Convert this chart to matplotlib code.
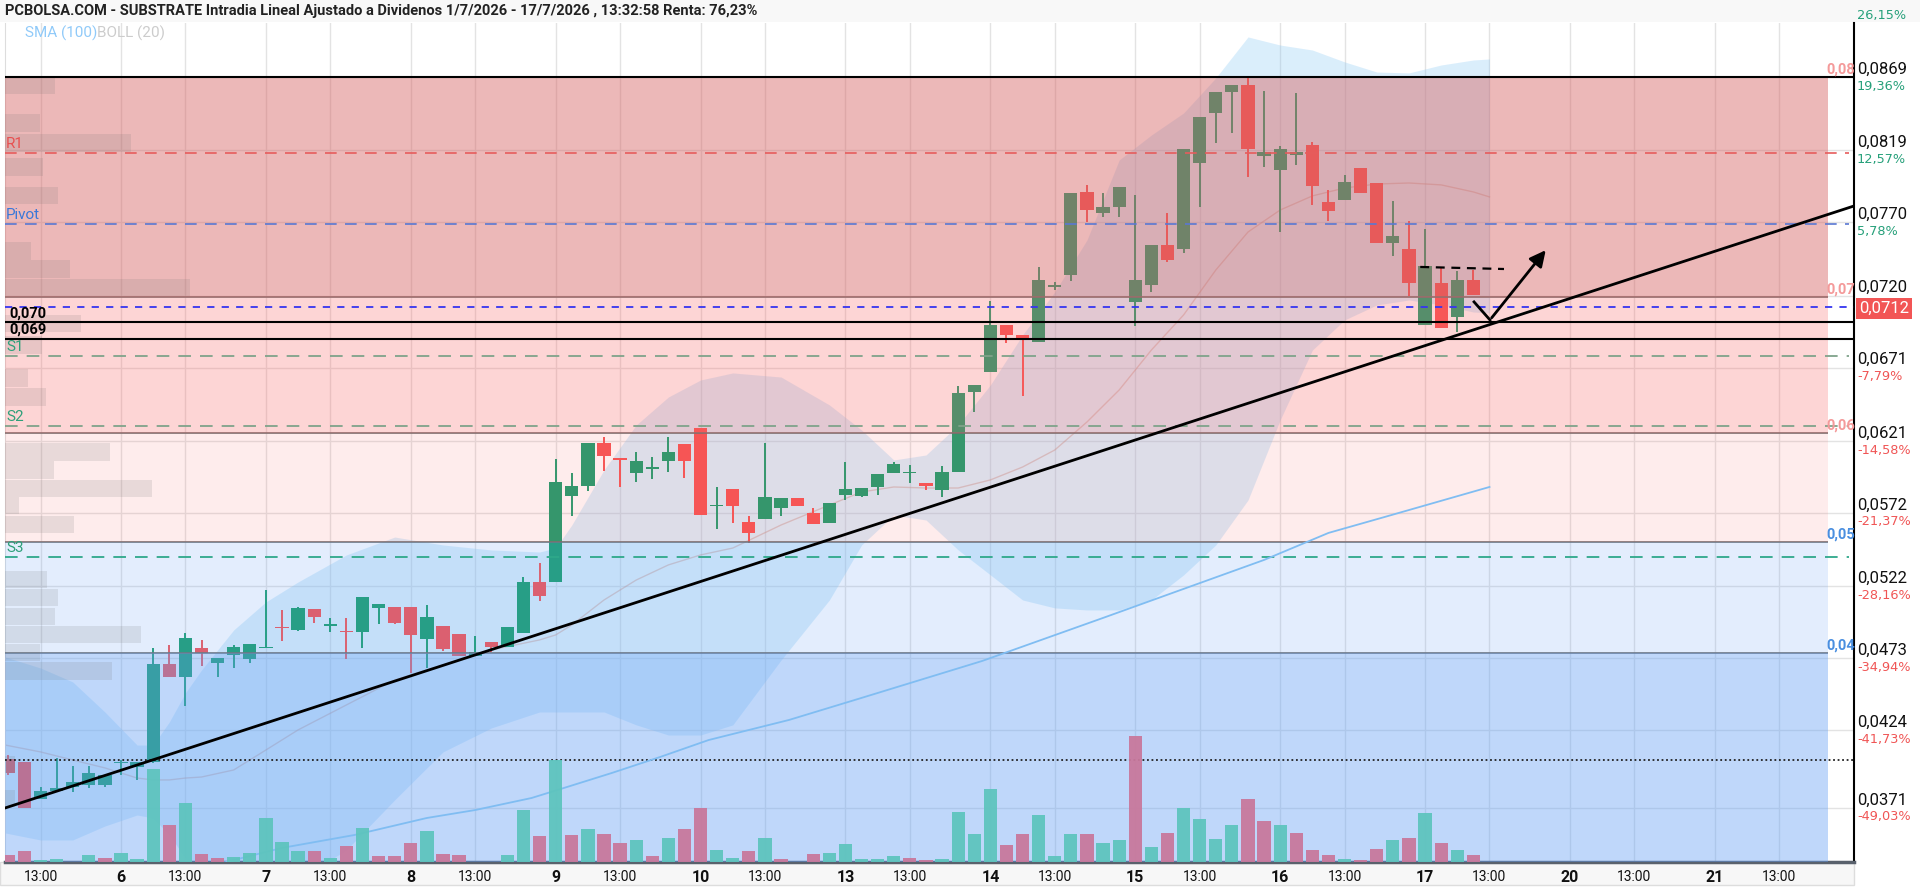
import matplotlib
matplotlib.use("Agg")
import matplotlib.pyplot as plt
import matplotlib.transforms as mtransforms
from matplotlib.patches import Rectangle

plt.rcParams['font.family'] = ['Roboto', 'DejaVu Sans']
NARROW = ['Liberation Sans Narrow', 'Roboto', 'DejaVu Sans']

# ---- hourly bars, index counted from 6/7 09:00 (9 bars per session) ----
bar_idx = list(range(-7, 85))
opens = [0.04044, 0.04024, 0.03771, 0.03826, 0.03853, 0.03867, 0.03867,
         0.04017, 0.03989, 0.04024, 0.04691, 0.04603, 0.04800, 0.04698, 0.04753, 0.04725,
         0.04800, 0.04943, 0.04923, 0.05066, 0.04950, 0.04916, 0.04909, 0.05073, 0.05079,
         0.05079, 0.04862, 0.04950, 0.04896, 0.04746, 0.04841, 0.04807, 0.04902, 0.05250,
         0.05250, 0.05836, 0.05904, 0.06197, 0.06095, 0.05993, 0.06020, 0.06074, 0.06190,
         0.06299, 0.05768, 0.05883, 0.05659, 0.05679, 0.05754, 0.05822, 0.05720, 0.05652,
         0.05843, 0.05836, 0.05897, 0.05993, 0.05993, 0.05924, 0.05877, 0.05999, 0.06544,
         0.06681, 0.07001, 0.06933, 0.06885, 0.07260, 0.07342, 0.07907, 0.07764, 0.07805,
         0.07157, 0.07273, 0.07546, 0.07519, 0.08104, 0.08445, 0.08588, 0.08636, 0.08152,
         0.08057, 0.08159, 0.08227, 0.07839, 0.07852, 0.08070, 0.07968, 0.07559, 0.07519,
         0.07001, 0.07287, 0.07055, 0.07307]
highs = [0.04071, 0.04024, 0.03853, 0.04051, 0.03996, 0.03996, 0.03935,
         0.04037, 0.04024, 0.04800, 0.04820, 0.04902, 0.04855, 0.04732, 0.04820, 0.04827,
         0.05195, 0.05059, 0.05079, 0.05066, 0.05004, 0.05004, 0.05148, 0.05100, 0.05079,
         0.05079, 0.05093, 0.04950, 0.04896, 0.04882, 0.04841, 0.04943, 0.05284, 0.05379,
         0.06088, 0.05993, 0.06197, 0.06238, 0.06095, 0.06136, 0.06101, 0.06238, 0.06190,
         0.06299, 0.05897, 0.05883, 0.05699, 0.06197, 0.05822, 0.05822, 0.05754, 0.05788,
         0.06067, 0.05890, 0.05986, 0.06067, 0.06047, 0.05924, 0.06040, 0.06585, 0.06592,
         0.07164, 0.07001, 0.06933, 0.07396, 0.07294, 0.07900, 0.07955, 0.07900, 0.07941,
         0.07886, 0.07546, 0.07764, 0.08200, 0.08418, 0.08588, 0.08636, 0.08684, 0.08595,
         0.08220, 0.08581, 0.08248, 0.07921, 0.08023, 0.08070, 0.07968, 0.07846, 0.07709,
         0.07655, 0.07396, 0.07369, 0.07376]
lows = [0.03935, 0.03710, 0.03771, 0.03826, 0.03819, 0.03846, 0.03853,
        0.03935, 0.03901, 0.04017, 0.04603, 0.04405, 0.04678, 0.04603, 0.04664, 0.04698,
        0.04800, 0.04848, 0.04916, 0.04970, 0.04909, 0.04725, 0.04800, 0.04964, 0.04964,
        0.04630, 0.04664, 0.04780, 0.04746, 0.04746, 0.04773, 0.04807, 0.04902, 0.05120,
        0.05250, 0.05699, 0.05870, 0.06006, 0.05897, 0.05931, 0.05952, 0.05999, 0.05959,
        0.05706, 0.05611, 0.05652, 0.05515, 0.05679, 0.05699, 0.05768, 0.05645, 0.05652,
        0.05809, 0.05829, 0.05843, 0.05993, 0.05924, 0.05877, 0.05829, 0.05999, 0.06408,
        0.06681, 0.06878, 0.06517, 0.06885, 0.07239, 0.07301, 0.07703, 0.07737, 0.07737,
        0.06994, 0.07226, 0.07430, 0.07491, 0.07805, 0.08241, 0.08309, 0.08009, 0.08077,
        0.07635, 0.08091, 0.07818, 0.07709, 0.07852, 0.07900, 0.07559, 0.07471, 0.07198,
        0.07001, 0.06980, 0.06953, 0.07205]
closes = [0.03949, 0.03710, 0.03826, 0.03846, 0.03887, 0.03949, 0.03935,
          0.04024, 0.04024, 0.04691, 0.04603, 0.04868, 0.04766, 0.04732, 0.04807, 0.04827,
          0.04807, 0.04936, 0.05073, 0.05011, 0.04964, 0.04909, 0.05148, 0.05100, 0.04970,
          0.04889, 0.05011, 0.04793, 0.04746, 0.04773, 0.04807, 0.04943, 0.05250, 0.05154,
          0.05931, 0.05904, 0.06197, 0.06108, 0.06081, 0.06074, 0.06033, 0.06136, 0.06074,
          0.05706, 0.05774, 0.05768, 0.05584, 0.05829, 0.05822, 0.05768, 0.05645, 0.05788,
          0.05883, 0.05890, 0.05986, 0.06054, 0.06000, 0.05904, 0.05999, 0.06538, 0.06592,
          0.07001, 0.06933, 0.06912, 0.07307, 0.07273, 0.07900, 0.07784, 0.07805, 0.07941,
          0.07307, 0.07546, 0.07444, 0.08200, 0.08418, 0.08588, 0.08636, 0.08200, 0.08179,
          0.08200, 0.08179, 0.07948, 0.07777, 0.07975, 0.07900, 0.07559, 0.07607, 0.07287,
          0.07403, 0.06980, 0.07307, 0.07205]
volumes = [20, 32, 7, 10, 0, 21, 13,
           28, 10, 280, 110, 178, 25, 13, 16, 28,
           133, 60, 32, 32, 12, 47, 103, 17, 17,
           58, 92, 25, 20, 0, 0, 20, 155, 77,
           305, 81, 100, 85, 58, 67, 17, 73, 100,
           163, 35, 13, 32, 72, 8, 0, 23, 27,
           53, 8, 10, 18, 13, 7, 10, 150, 83,
           218, 50, 83, 140, 18, 83, 83, 57, 65,
           377, 45, 87, 162, 128, 70, 110, 190, 122,
           110, 87, 35, 20, 8, 5, 40, 65, 73,
           148, 57, 35, 20]
vol_dir = [-1, -1, 1, 1, 1, 1, -1,
           1, 1, 1, -1, 1, -1, -1, 1, 1,
           1, 1, 1, -1, 1, -1, 1, -1, -1,
           -1, 1, -1, -1, 1, 1, 1, 1, -1,
           1, -1, 1, -1, -1, 1, -1, 1, -1,
           -1, 1, 1, -1, 1, -1, 1, -1, 1,
           1, 1, 1, 1, -1, -1, 1, 1, 1,
           1, -1, -1, 1, 1, 1, -1, 1, 1,
           -1, 1, -1, 1, 1, 1, 1, -1, -1,
           1, -1, -1, -1, 1, -1, -1, 1, -1,
           1, -1, 1, -1]

# ---- Bollinger (20) and SMA (100), read at sample bars ----
bb_idx = [-7.2, -5, -3, -1, 1, 2, 3, 4, 5, 7, 9, 11, 14, 17, 20, 23, 26, 27, 28, 30,
          32, 34, 36, 38, 41, 44, 46, 48, 50, 52, 54, 56, 58, 60, 62, 64, 66, 68, 70, 72,
          74, 76, 78, 80, 82, 84, 85]
bb_upper = [0.04739, 0.04664, 0.04569, 0.04364, 0.04139, 0.04139, 0.04296, 0.04494, 0.04650, 0.04923,
            0.05114, 0.05250, 0.05434, 0.05556, 0.05502, 0.05468, 0.05454, 0.05481, 0.05638, 0.06013,
            0.06319, 0.06510, 0.06626, 0.06674, 0.06646, 0.06456, 0.06285, 0.06081, 0.06115, 0.06319,
            0.06592, 0.06933, 0.07226, 0.07580, 0.08125, 0.08295, 0.08445, 0.08684, 0.08963, 0.08908,
            0.08874, 0.08793, 0.08724, 0.08718, 0.08772, 0.08806, 0.08813]
bb_lower = [0.03540, 0.03492, 0.03492, 0.03587, 0.03662, 0.03642, 0.03526, 0.03369, 0.03185, 0.03083,
            0.03083, 0.03220, 0.03424, 0.03765, 0.04092, 0.04255, 0.04364, 0.04364, 0.04364, 0.04364,
            0.04276, 0.04207, 0.04207, 0.04276, 0.04718, 0.05127, 0.05502, 0.05706, 0.05672, 0.05468,
            0.05298, 0.05127, 0.05073, 0.05059, 0.05059, 0.05127, 0.05298, 0.05502, 0.05808, 0.06354,
            0.06830, 0.07035, 0.07137, 0.07171, 0.07137, 0.07089, 0.07083]
bb_mid = [0.04139, 0.04092, 0.04037, 0.03983, 0.03914, 0.03901, 0.03901, 0.03914, 0.03921, 0.03969,
          0.04105, 0.04242, 0.04412, 0.04582, 0.04684, 0.04787, 0.04855, 0.04889, 0.04957, 0.05127,
          0.05263, 0.05366, 0.05434, 0.05481, 0.05638, 0.05774, 0.05863, 0.05897, 0.05890, 0.05890,
          0.05945, 0.06033, 0.06149, 0.06340, 0.06558, 0.06830, 0.07069, 0.07375, 0.07634, 0.07784,
          0.07880, 0.07934, 0.07961, 0.07968, 0.07955, 0.07907, 0.07873]
sma_idx = [5, 10, 14.5, 19, 22, 25.5, 27.5, 30.5, 33.5, 36.5, 41.5, 46, 53.5, 61, 71, 75, 78.5, 85]
sma_vals = [0.0330, 0.03438, 0.03526, 0.03642, 0.03696, 0.03778, 0.03846, 0.03949, 0.04058,
            0.04173, 0.04310, 0.04460, 0.04712, 0.05005, 0.05400, 0.05584, 0.05693, 0.05897]

# ---- levels ----
trend_idx = [-7.2, 107.6]
trend_vals = [0.0371, 0.0781]
level_top, level_070, level_069 = 0.0869, 0.0702, 0.06905
r1, pivot, s1, s2, s3 = 0.0817, 0.0769, 0.0679, 0.0631, 0.0542
last_price = 0.0712
dotted_level = 0.0404
zone_tops = [0.0869, 0.07192, 0.06265, 0.05522, 0.04766]
zone_bots = [0.07192, 0.06265, 0.05522, 0.04766, 0.0330]
zone_labels = ['0,08', '0,07', '0,06', '0,05', '0,04']

profile_prices = [0.08633, 0.08377, 0.08241, 0.08077, 0.07883, 0.07505, 0.07382, 0.07256,
                  0.07011, 0.06865, 0.06640, 0.06510, 0.06136, 0.06013, 0.05887, 0.05771,
                  0.05642, 0.05267, 0.05144, 0.05015, 0.04892, 0.04770, 0.04643, 0.04007, 0.03775]
profile_vol = [50, 35, 126, 38, 53, 26, 65, 185, 76, 37, 23, 41, 105, 49, 147, 14,
               69, 42, 53, 50, 136, 35, 107, 10, 10]

right_ticks = [0.0869, 0.0819, 0.0770, 0.0720, 0.0671, 0.0621, 0.0572, 0.0522, 0.0473, 0.0424, 0.0371]
right_labels = ['0,0869', '0,0819', '0,0770', '0,0720', '0,0671', '0,0621', '0,0572',
                '0,0522', '0,0473', '0,0424', '0,0371']
pct_labels = ['19,36%', '12,57%', '5,78%', '', '-7,79%', '-14,58%', '-21,37%',
              '-28,16%', '-34,94%', '-41,73%', '-49,03%']
session_days = ['6', '7', '8', '9', '10', '13', '14', '15', '16', '17', '20', '21']

# ---- figure ----
W, H = 1920, 889
fig = plt.figure(figsize=(W / 100, H / 100), dpi=100)
fig.patches.append(Rectangle((0, 1 - 22 / H), 1, 22 / H, transform=fig.transFigure,
                             fc='#f8f8f8', ec='none', zorder=-5))
fig.patches.append(Rectangle((0, 1 - 885 / H), 1854 / W, 23 / H, transform=fig.transFigure,
                             fc='#f7f7f7', ec='#dddddd', lw=1, zorder=-5))
ax = fig.add_axes([5 / W, 1 - 862 / H, 1849 / W, 839 / H])
x0, x1 = -7.205, 107.64
zone_end = 106
ax.set_xlim(x0, x1)
ax.set_ylim(0.03342, 0.09058)

# grid / ticks
xt, xl = [], []
for k in range(-1, 12):
    if k >= 0:
        xt.append(9 * k); xl.append(session_days[k])
    xt.append(9 * k + 4); xl.append('13:00')
ax.set_xticks(xt)
ax.set_xticklabels(xl)
for t in ax.get_xticklabels():
    if t.get_text() == '13:00':
        t.set_fontsize(10); t.set_family(NARROW)
    else:
        t.set_fontsize(11.5); t.set_fontweight('bold'); t.set_family(NARROW)
ax.set_yticks(right_ticks)
ax.tick_params(axis='y', length=0, labelleft=False)
ax.tick_params(axis='x', length=0, pad=6, colors='#111111')
ax.grid(True, color='#e3e3e3', lw=1, zorder=0)
ax.set_axisbelow(True)
ax.spines['top'].set_visible(False)
ax.spines['left'].set_color('#dddddd')
ax.spines['right'].set_color('black'); ax.spines['right'].set_linewidth(1.5)
ax.spines['bottom'].set_color('#59616c'); ax.spines['bottom'].set_linewidth(2.5)

# Bollinger band
ax.fill_between(bb_idx, bb_lower, bb_upper, color='#87c8f5', alpha=0.30, lw=0, zorder=1.5)
ax.plot(bb_idx, bb_mid, color='#c89890', lw=1, alpha=0.45, zorder=1.6)

# candles
up_c, dn_c = '#1a9e6e', '#f65353'
cols = [up_c if c >= o else dn_c for o, c in zip(opens, closes)]
ax.vlines(bar_idx, lows, highs, colors=cols, lw=1.4, zorder=2)
bottoms = [min(o, c) for o, c in zip(opens, closes)]
heights = [max(abs(c - o), 0.00005) for o, c in zip(opens, closes)]
ax.bar(bar_idx, heights, bottom=bottoms, width=0.82, color=cols, lw=0, zorder=2.1)

# zones over the candles
zone_cols = ['#d76464', '#fa6464', '#fa6464', '#64a0f5', '#64a0f5']
zone_alpha = [0.46, 0.27, 0.12, 0.18, 0.41]
for top, bot, c, a in zip(zone_tops, zone_bots, zone_cols, zone_alpha):
    ax.add_patch(Rectangle((x0, bot), zone_end - x0, top - bot, fc=c, alpha=a, lw=0, zorder=3))
ax.hlines(zone_tops[1:], x0, zone_end, colors='#707070', lw=1.2, zorder=2.9)
ax.barh(profile_prices, [v / 16.1 for v in profile_vol], left=x0, height=0.00118,
        color='#707070', alpha=0.15, lw=0, zorder=3.5)

# levels
ax.hlines([level_top, level_070, level_069], x0, x1, colors='black', lw=1.5, zorder=5)
ax.hlines(r1, x0, x1 - 0.3, colors='#e65c5c', lw=1.2, linestyles=(0, (7, 5)), zorder=5)
ax.hlines(pivot, x0, x1 - 0.3, colors='#5a78d2', lw=1.2, linestyles=(0, (7, 5)), zorder=5)
ax.hlines([s1, s2], x0, x1 - 0.3, colors='#7fa38a', lw=1.3, linestyles=(0, (7, 5)), zorder=5)
ax.hlines(s3, x0, x1 - 0.3, colors='#2ea88a', lw=1.3, linestyles=(0, (7, 5)), zorder=5)
ax.hlines(last_price, x0, x1, colors='#3535f0', lw=1.3, linestyles=(0, (4, 4)), zorder=5)
ax.hlines(dotted_level, x0, x1, colors='#222222', lw=1.3, linestyles=(0, (1, 1.5)), zorder=5)

ax.plot(sma_idx, sma_vals, color='#80bdf2', lw=1.3, zorder=5)
ax.plot(trend_idx, trend_vals, color='black', lw=2, zorder=6)
ax.plot([80.7, 85.9], [0.07396, 0.07382], color='black', lw=1.6, ls=(0, (4, 3)), zorder=6)
ax.plot([84.04, 85.03], [0.07158, 0.07035], color='black', lw=2, zorder=6)
ax.annotate('', xy=(88.6, 0.07525), xytext=(85.03, 0.07035),
            arrowprops=dict(arrowstyle='-|>', color='black', lw=2, mutation_scale=24), zorder=6)

# left labels
for txt, lev, col in [('R1', r1, '#e85050'), ('Pivot', pivot, '#3a78d8'),
                      ('S1', s1, '#2ea07a'), ('S2', s2, '#2ea07a'), ('S3', s3, '#2ea07a')]:
    ax.annotate(txt, xy=(x0, lev), xytext=(1, 9), textcoords='offset pixels',
                fontsize=11, color=col, va='center', ha='left', zorder=7)
for txt, lev in [('0,070', level_070), ('0,069', level_069)]:
    ax.annotate(txt, xy=(x0, lev), xytext=(4, 9), textcoords='offset pixels',
                fontsize=10.5, fontweight='bold', color='black', va='center', zorder=7)
for txt, lev in zip(zone_labels, zone_tops):
    col = '#f49a9a' if lev > 0.06 else '#4a8fe0'
    ax.text(105.95, lev, txt, fontsize=10.5, fontweight='bold', color=col,
            va='bottom', ha='left', clip_on=False, zorder=7)

# right axis labels
tr = mtransforms.blended_transform_factory(ax.transAxes, ax.transData)
for v, lab, pct in zip(right_ticks, right_labels, pct_labels):
    ax.annotate(lab, xy=(1, v), xycoords=tr, xytext=(3, 8), textcoords='offset pixels',
                fontsize=12, color='#111111', va='center', ha='left', annotation_clip=False)
    if pct:
        ax.annotate(pct, xy=(1, v), xycoords=tr, xytext=(3, -9), textcoords='offset pixels',
                    fontsize=9.3, family='DejaVu Sans', va='center', ha='left',
                    color='#26a07a' if not pct.startswith('-') else '#f05555', annotation_clip=False)
ax.annotate('0,0712', xy=(1, last_price), xycoords=tr, xytext=(5, -1), textcoords='offset pixels',
            fontsize=12, color='white', va='center', ha='left', annotation_clip=False,
            bbox=dict(boxstyle='square,pad=0.2', fc='#f25555', ec='none'))
fig.text(1857 / W, 1 - 15 / H, '26,15%', fontsize=9.3, family='DejaVu Sans', color='#26a07a', va='center')

# volume bars
axv = ax.twinx()
axv.set_ylim(0, 839 * 3)
axv.set_axis_off()
vcols = ['#5ec4be' if d > 0 else '#c8789c' for d in vol_dir]
axv.bar(bar_idx, volumes, width=0.82, color=vcols, alpha=0.95, lw=0)

# header texts
fig.text(5 / W, 1 - 11 / H,
         'PCBOLSA.COM - SUBSTRATE Intradia Lineal Ajustado a Dividenos 1/7/2026 - 17/7/2026 , 13:32:58 Renta: 76,23%',
         fontsize=10.5, fontweight='bold', family=NARROW, color='#222222', va='center')
fig.text(25 / W, 1 - 33 / H, 'SMA (100)', fontsize=11, family=NARROW, color='#90caf9', va='center')
fig.text(97 / W, 1 - 33 / H, 'BOLL (20)', fontsize=11, family=NARROW, color='#cccccc', va='center')

fig.savefig('out.png', dpi=100)
